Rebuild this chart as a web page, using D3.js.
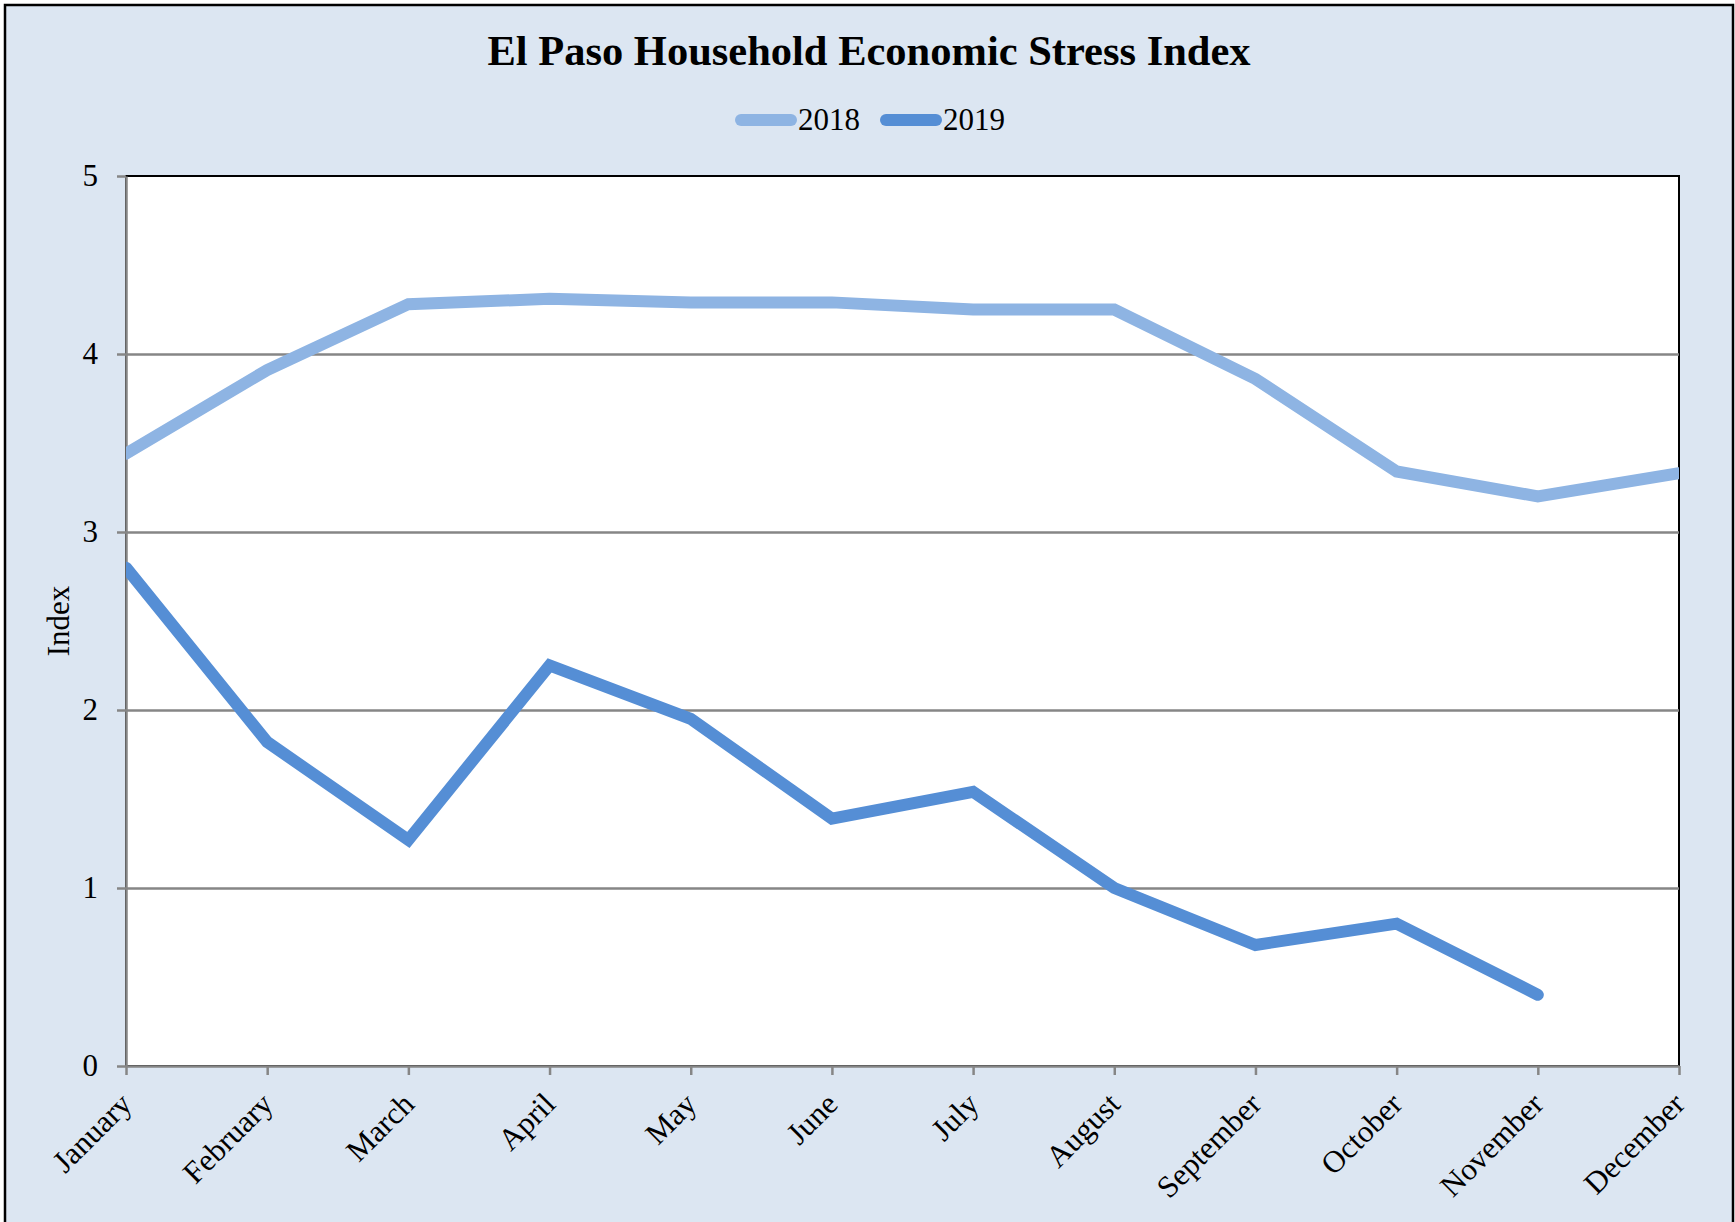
<!DOCTYPE html>
<html lang="en">
<head>
<meta charset="UTF-8">
<script src="https://d3js.org/d3.v7.min.js"></script>
<style>
  html, body { margin: 0; padding: 0; background: #fff; }
  svg text { font-family: 'Liberation Serif', 'Times New Roman', serif; fill: #000; }
  .title { font-size: 42.5px; font-weight: bold; text-anchor: middle; }
  .tick text, .legend text, .ylabel { font-size: 31px; }
  .axis path, .axis line { stroke: #868686; stroke-width: 2.5; }
  .grid line { stroke: #868686; stroke-width: 2.5; }
  .grid path { display: none; }
</style>
</head>
<body>
<div id="chart"></div>
<script>

// ---- data ----
var months = ['January', 'February', 'March', 'April', 'May', 'June',
              'July', 'August', 'September', 'October', 'November', 'December'];
var index2018 = [3.44, 3.91, 4.28, 4.31, 4.29, 4.29, 4.25, 4.25, 3.86, 3.34, 3.20, 3.33];
var index2019 = [2.80, 1.82, 1.27, 2.25, 1.95, 1.39, 1.54, 1.00, 0.68, 0.80, 0.40];
var yTicks = [0, 1, 2, 3, 4, 5];
var seriesNames = ['2018', '2019'];
var seriesColors = ['#8eb4e3', '#558ed5'];

var width = 1735, height = 1222;
var plot = { left: 126, right: 1679, top: 176, bottom: 1066 };

var svg = d3.select('#chart').append('svg')
    .attr('width', width)
    .attr('height', height);

// chart area background + border
svg.append('rect')
    .attr('x', 5).attr('y', 5)
    .attr('width', 1728).attr('height', 1250)
    .attr('fill', '#dce6f2')
    .attr('stroke', '#000')
    .attr('stroke-width', 2.5);

svg.append('text')
    .attr('class', 'title')
    .attr('x', 869).attr('y', 65)
    .text('El Paso Household Economic Stress Index');

var x = d3.scalePoint()
    .domain(months)
    .range([plot.left, plot.right]);

var y = d3.scaleLinear()
    .domain([0, 5])
    .range([plot.bottom, plot.top]);

// plot area
svg.append('rect')
    .attr('x', plot.left).attr('y', plot.top)
    .attr('width', plot.right - plot.left)
    .attr('height', plot.bottom - plot.top)
    .attr('fill', '#fff')
    .attr('stroke', '#000')
    .attr('stroke-width', 2);

// gridlines
svg.append('g')
    .attr('class', 'grid')
    .attr('transform', 'translate(' + plot.left + ',0)')
    .call(d3.axisLeft(y).tickValues(yTicks.filter(function(d) { return d > 0 && d < 5; }))
        .tickSize(-(plot.right - plot.left)).tickFormat(''));

// axes
svg.append('g')
    .attr('class', 'axis')
    .attr('transform', 'translate(' + plot.left + ',0)')
    .call(d3.axisLeft(y).tickValues(yTicks).tickFormat(d3.format('d'))
        .tickSize(9).tickSizeOuter(0).tickPadding(19));

var xAxis = svg.append('g')
    .attr('class', 'axis')
    .attr('transform', 'translate(0,' + plot.bottom + ')')
    .call(d3.axisBottom(x).tickSize(9).tickSizeOuter(0));

xAxis.selectAll('text')
    .attr('x', 0).attr('y', 0).attr('dy', 0)
    .style('text-anchor', 'end')
    .attr('transform', 'translate(7,40) rotate(-45)');

svg.append('text')
    .attr('class', 'ylabel')
    .attr('text-anchor', 'middle')
    .attr('transform', 'translate(69,' + ((plot.top + plot.bottom) / 2) + ') rotate(-90)')
    .text('Index');

// lines
svg.append('clipPath').attr('id', 'plotClip')
  .append('rect')
    .attr('x', plot.left).attr('y', plot.top - 20)
    .attr('width', plot.right - plot.left)
    .attr('height', plot.bottom - plot.top + 40);

var line = d3.line()
    .x(function(d, i) { return x(months[i]); })
    .y(function(d) { return y(d); });

var series = [index2018, index2019];

svg.append('g')
    .attr('clip-path', 'url(#plotClip)')
    .selectAll('path')
    .data(series)
    .enter().append('path')
    .attr('d', line)
    .attr('fill', 'none')
    .attr('stroke', function(d, i) { return seriesColors[i]; })
    .attr('stroke-width', 12)
    .attr('stroke-linecap', 'round')
    .attr('stroke-linejoin', 'miter');

// legend
var legend = svg.append('g').attr('class', 'legend');
var itemX = [735, 880];

var item = legend.selectAll('g')
    .data(seriesNames)
    .enter().append('g')
    .attr('transform', function(d, i) { return 'translate(' + itemX[i] + ',0)'; });

item.append('line')
    .attr('x1', 6).attr('x2', 56)
    .attr('y1', 120).attr('y2', 120)
    .attr('stroke', function(d, i) { return seriesColors[i]; })
    .attr('stroke-width', 12)
    .attr('stroke-linecap', 'round');

item.append('text')
    .attr('x', 63).attr('y', 130)
    .text(function(d) { return d; });

</script>
</body>
</html>
